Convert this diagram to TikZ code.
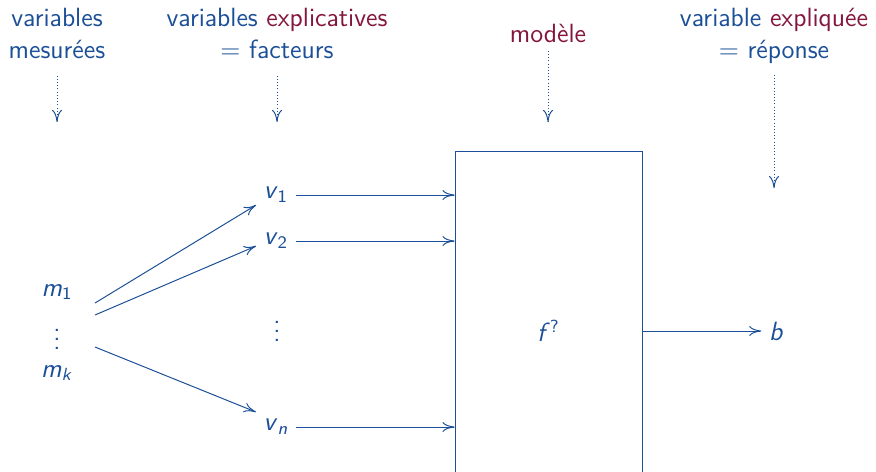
\documentclass[tikz,border=0pt]{standalone}
\usepackage{xcolor}
\usepackage{tikz}
\usetikzlibrary{arrows.meta, positioning}
\renewcommand{\familydefault}{\sfdefault}
\definecolor{bleu}{RGB}{27,79,152}
\definecolor{bordeaux}{RGB}{132,22,62}
\newcommand{\ivar}[2]{\textit{#1}\textsubscript{#2}}
\tikzset{
  lbl/.style={text=bleu, font=\fontsize{12}{14.5}\selectfont, align=center},
  var/.style={text=bleu, font=\fontsize{12}{14.5}\selectfont},
  modele/.style={rectangle, draw=bleu, line width=0.45pt,
                 minimum width=2.992cm, minimum height=5.76cm,
                 inner sep=0pt, text=bleu, font=\fontsize{12}{14.5}\selectfont},
  arr/.style={-{To[length=5.5pt, width=4.5pt]}, bleu, line width=0.45pt},
  dotarr/.style={arr, densely dotted},
}
\begin{document}
\begin{tikzpicture}[node distance=0.4cm]
  \useasboundingbox (0,0) rectangle (14.016,-7.536);
  \clip (0,0) rectangle (14.016,-7.536);
  %% Headers
  \node[lbl] (h1) at (0.912,-0.54) {variables\\mesurées};
  \node[lbl] (h2) at (4.432,-0.54) {variables \textcolor{bordeaux}{explicatives}\\$=$ facteurs};
  \node[lbl, text=bordeaux] (h3) at (8.768,-0.54) {modèle};
  \node[lbl] (h4) at (12.384,-0.58) {variable \textcolor{bordeaux}{expliquée}\\$=$ réponse};
  \coordinate (a1) at (0.912,-1.952);
  \coordinate (a2) at (4.432,-1.952);
  \coordinate (a3) at (8.768,-1.952);
  \coordinate (a4) at (12.384,-3.01);
  \draw[dotarr, shorten <=0.144cm] (h1) -- (a1);
  \draw[dotarr, shorten <=0.144cm] (h2) -- (a2);
  \draw[dotarr] (h3) -- (a3);
  \draw[dotarr, shorten <=0.05cm] (h4) -- (a4);
  %% Measured variables
  \node[var] (m1) at (0.912,-4.672) {\ivar{m}{1}};
  \node[var] (md) at (0.912,-5.328) {\vdots};
  \node[var] (mk) at (0.912,-5.968) {\ivar{m}{\textit{k}}};
  %% Factors
  \node[var] (v1) at (4.416,-3.12)  {\ivar{v}{1}};
  \node[var] (v2) at (4.416,-3.856) {\ivar{v}{2}};
  \node[var] (vd) at (4.432,-5.2)   {\vdots};
  \node[var] (vn) at (4.416,-6.832) {\ivar{v}{\textit{n}}};
  \coordinate (s1) at (1.52,-4.848);
  \coordinate (s2) at (1.52,-5.04);
  \coordinate (s3) at (1.52,-5.552);
  \draw[arr] (s1) -- ([yshift=-0.16cm]v1.west);
  \draw[arr] (s2) -- ([yshift=-0.08cm]v2.west);
  \draw[arr] (s3) -- ([yshift=0.24cm]vn.west);
  %% Model and response
  \node[modele] (f) at (8.776,-5.296) {\textit{f}\textsuperscript{?}};
  \node[var, right=1.9cm of f] (b) {\textit{b}};
  \foreach \v in {v1,v2,vn}
    \draw[arr] (\v.east) -- (\v.east -| f.west);
  \draw[arr] (f) -- (b);
\end{tikzpicture}
\end{document}
